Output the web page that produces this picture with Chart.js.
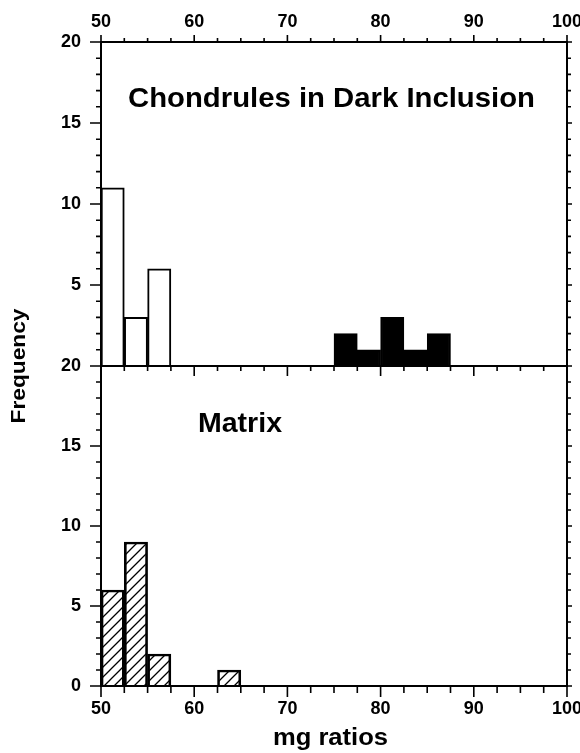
<!DOCTYPE html>
<html>
<head>
<meta charset="utf-8">
<title>mg ratios histogram</title>
<script src="https://cdn.jsdelivr.net/npm/chart.js@4"></script>
<style>
  html, body { margin: 0; padding: 0; background: #fff; }
  #wrap { width: 580px; height: 753px; position: relative; }
</style>
</head>
<body>
<div id="wrap"><canvas id="mg-chart"></canvas></div>
<script>
// ── Data ───────────────────────────────────────────────────────────────────
// bin starts, 2.5 wide, 50 .. 100
const BIN_STARTS     = [50, 52.5, 55, 57.5, 60, 62.5, 65, 67.5, 70, 72.5, 75, 77.5, 80, 82.5, 85, 87.5, 90, 92.5, 95, 97.5];
const CHONDRULE_OPEN = [11, 3, 6, 0, 0, 0, 0, 0, 0, 0, 0, 0, 0, 0, 0, 0, 0, 0, 0, 0];
const CHONDRULE_DARK = [0, 0, 0, 0, 0, 0, 0, 0, 0, 0, 2, 1, 3, 1, 2, 0, 0, 0, 0, 0];
const MATRIX         = [6, 9, 2, 0, 0, 1, 0, 0, 0, 0, 0, 0, 0, 0, 0, 0, 0, 0, 0, 0];

const X_MIN = 50, X_MAX = 100, X_STEP = 10, X_MINOR = 2.5;
const Y_MIN = 0,  Y_MAX = 20,  Y_STEP = 5,  Y_MINOR = 1;

const FONT = '"Liberation Sans", Arial, Helvetica, sans-serif';
const blanks = arr => arr.map(v => (v === 0 ? null : v));

// ── Hatch fill ─────────────────────────────────────────────────────────────
const canvas = document.getElementById("mg-chart");
function makeHatch() {
  const s = 10;
  const c = document.createElement("canvas");
  c.width = c.height = s;
  const g = c.getContext("2d");
  g.strokeStyle = "#000";
  g.lineWidth = 1.3;
  g.beginPath();
  g.moveTo(0, s); g.lineTo(s, 0);
  g.moveTo(-2, 2); g.lineTo(2, -2);
  g.moveTo(s - 2, s + 2); g.lineTo(s + 2, s - 2);
  g.stroke();
  return canvas.getContext("2d").createPattern(c, "repeat");
}

// ── Text drawn squeezed/stretched to the width seen in the figure ─────────
function fitText(ctx, text, cx, baseY, size, width, angle) {
  ctx.save();
  ctx.font = `bold ${size}px ${FONT}`;
  const natural = ctx.measureText(text).width;
  ctx.translate(cx, baseY);
  if (angle) ctx.rotate(angle);
  ctx.scale(width / natural, 1);
  ctx.textAlign = "center";
  ctx.textBaseline = "alphabetic";
  ctx.fillStyle = "#000";
  ctx.fillText(text, 0, 0);
  ctx.restore();
}

// ── Frame, outward ticks and the panel captions ───────────────────────────
const framePlugin = {
  id: "frame",
  afterDatasetsDraw(chart) {
    const { ctx, chartArea: { left, right } } = chart;
    const xs = chart.scales.xb;
    const yTop = chart.scales.yTop, yBot = chart.scales.yBot;

    ctx.save();
    ctx.strokeStyle = "#000";
    ctx.lineWidth = 2;
    ctx.beginPath();
    [yTop, yBot].forEach(ys => ctx.rect(left, ys.top, right - left, ys.bottom - ys.top));
    ctx.stroke();

    ctx.lineWidth = 1.6;
    ctx.beginPath();
    [yTop, yBot].forEach(ys => {
      for (let v = Y_MIN; v <= Y_MAX; v += Y_MINOR) {
        const y = ys.getPixelForValue(v);
        const major = v % Y_STEP === 0;
        ctx.moveTo(left, y);  ctx.lineTo(left - (major ? 11 : 5), y);
        ctx.moveTo(right, y); ctx.lineTo(right + (major ? 5 : 4), y);
      }
    });
    // [edge, direction, major length, minor length]
    const rows = [[yTop.top, -1, 7, 4], [yTop.bottom, 1, 10, 5], [yBot.bottom, 1, 11, 7]];
    rows.forEach(([y0, dir, lMaj, lMin]) => {
      for (let v = X_MIN; v <= X_MAX; v += X_MINOR) {
        const x = xs.getPixelForValue(v);
        const major = v % X_STEP === 0;
        ctx.moveTo(x, y0); ctx.lineTo(x, y0 + dir * (major ? lMaj : lMin));
      }
    });
    ctx.stroke();
    ctx.restore();

    fitText(ctx, "Chondrules in Dark Inclusion", 331.5, 107, 27, 407);
    fitText(ctx, "Matrix", 240, 432, 27, 84);
    fitText(ctx, "mg ratios", 330.5, 745, 23, 115);
    fitText(ctx, "Frequency", 24.5, 366, 21, 115, -Math.PI / 2);
  },
};

// ── Chart ──────────────────────────────────────────────────────────────────
const tickFont = size => ({ family: FONT, size, weight: "bold" });
const noPad = s => { s.paddingLeft = 0; s.paddingRight = 0; s.paddingTop = 0; s.paddingBottom = 0; };

function yScale(weight, hideZero) {
  return {
    type: "linear",
    position: "left",
    stack: "panels",
    stackWeight: weight,
    min: Y_MIN, max: Y_MAX,
    grid: { display: false, drawTicks: false },
    border: { display: false },
    ticks: {
      stepSize: Y_STEP,
      color: "#000",
      font: tickFont(18),
      padding: 20,
      callback: v => (hideZero && v === 0 ? "" : v),
    },
    afterFit: s => { s.width = 101; noPad(s); },
  };
}

function xScale(position, height, padding) {
  return {
    type: "linear",
    position,
    offset: false,
    min: X_MIN, max: X_MAX,
    grid: { display: false, drawTicks: false, offset: false },
    border: { display: false },
    ticks: { stepSize: X_STEP, color: "#000", font: tickFont(18), padding, maxRotation: 0 },
    afterFit: s => { s.height = height; noPad(s); },
  };
}

const hatch = makeHatch();
const barStyle = { borderColor: "#000", borderWidth: 2, grouped: false, barPercentage: 1, categoryPercentage: 1, xAxisID: "xc" };

new Chart(canvas.getContext("2d"), {
  type: "bar",
  data: {
    labels: BIN_STARTS,
    datasets: [
      { ...barStyle, label: "Chondrules (light)", data: blanks(CHONDRULE_OPEN), backgroundColor: "#fff", yAxisID: "yTop" },
      { ...barStyle, label: "Chondrules (dark)",  data: blanks(CHONDRULE_DARK), backgroundColor: "#000", yAxisID: "yTop" },
      { ...barStyle, label: "Matrix",             data: blanks(MATRIX),         backgroundColor: hatch,  yAxisID: "yBot" },
    ],
  },
  options: {
    responsive: true,
    maintainAspectRatio: false,
    animation: false,
    layout: { padding: { left: 0, right: 13, top: 0, bottom: 0 } },
    plugins: { legend: { display: false }, tooltip: { enabled: false } },
    scales: {
      xc: { type: "category", display: false, offset: true },
      xt: xScale("top", 42, 9),
      xb: xScale("bottom", 67, 12),
      yBot: yScale(80, false),
      yTop: yScale(81, true),
    },
  },
  plugins: [framePlugin],
});
</script>
</body>
</html>
